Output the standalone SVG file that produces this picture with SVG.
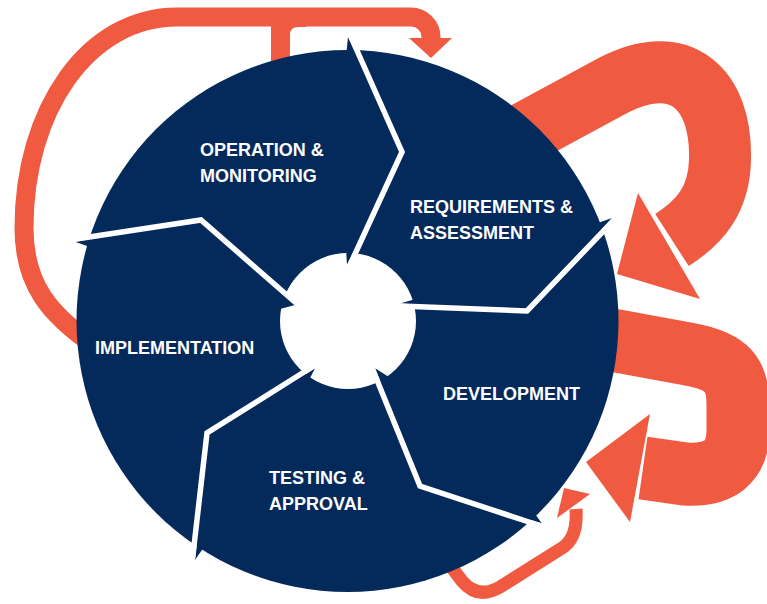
<svg xmlns="http://www.w3.org/2000/svg" width="767" height="604" viewBox="0 0 767 604">
  <style>
    .band { fill: none; stroke: #EF5A40; stroke-linecap: butt; stroke-linejoin: round; }
    .head { fill: #EF5A40; }
    .navy { fill: #032A5A; }
    .gap { fill: none; stroke: #FFFFFF; stroke-width: 5.5; stroke-linejoin: miter; stroke-linecap: butt; }
    .label { font-family: "Liberation Sans", Arial, sans-serif; font-weight: bold; font-size: 18px; fill: #FFFFFF; }
  </style>

  <!-- Orange feedback arrows, drawn behind the wheel -->
  <g id="connectors">
    <!-- thin loop over the top-left -->
    <path class="band" stroke-width="19" d="M 95 346 C 50 315 24 285 24 228 C 24 110 88 17 177 17 L 411 17 A 20 20 0 0 1 431 37 L 431 40"/>
    <path class="head" d="M 271 20 V 78 H 290 V 35 Q 290 27 298 27 H 306 V 17 H 271 Z"/>
    <polygon class="head" points="409,38 452,38 431,58"/>

    <!-- large upper-right return arrow -->
    <path class="band" stroke-width="62" d="M 490 152 L 612 86 C 680 50 722 88 720 160 C 719 200 700 222 672 240"/>
    <polygon class="head" points="638,193 700,299 617,274"/>

    <!-- large lower-right return arrow -->
    <path class="band" stroke-width="63" d="M 590 336 L 688 354 C 728 361 738 375 738 405 L 738 430 C 738 462 720 476 685 474 L 643 468"/>
    <polygon class="head" points="650,414 630,522 586,462"/>

    <!-- small bottom arrow -->
    <path class="band" stroke-width="13" d="M 440 552 L 462 581 Q 478 600 500 587 L 562 548 Q 578 538 576 509"/>
    <polygon class="head" points="557,518 590,494 564,488"/>
  </g>

  <!-- The wheel: navy disc, white hub and the chevron gaps between stages -->
  <g id="wheel">
    <circle class="navy" cx="347.5" cy="321" r="271"/>
    <!-- barbs reaching past the rim -->
    <polygon class="navy" points="348,37 346,57 357.5,57"/>
    <polygon class="navy" points="612,218 595,224 598.5,233"/>
    <polygon class="navy" points="541.7,523.3 533,511 522.7,517.2"/>
    <polygon class="navy" points="195,560 204,547 197.3,540"/>
    <polygon class="navy" points="75,241.7 90,247 92.7,238.6"/>

    <circle cx="348" cy="321" r="68" fill="#FFFFFF"/>
    <!-- barbs reaching into the hub -->
    <polygon class="navy" points="347,265 346,248 355.3,248"/>
    <polygon class="navy" points="400,303.5 414,299.5 418,304.5"/>
    <polygon class="navy" points="375,368.3 389,377 382.3,385.8"/>
    <polygon class="navy" points="315,368.3 309,380 299.8,377.9"/>
    <polygon class="navy" points="295,305 280,309 281.7,292.9"/>

    <!-- white chevron gaps -->
    <polyline class="gap" points="351,37 402,152 349.5,266"/>
    <polyline class="gap" points="614,220 527,311 400,306"/>
    <polyline class="gap" points="372.5,369 420,486 541,526"/>
    <polyline class="gap" points="313.6,366 207,433 192.6,558"/>
    <polyline class="gap" points="74.5,239.3 201,220 296,303"/>
  </g>

  <g id="operation-monitoring">
    <text class="label" x="200" y="156">OPERATION &amp;</text>
    <text class="label" x="200" y="182">MONITORING</text>
  </g>
  <g id="requirements-assessment">
    <text class="label" x="410" y="213">REQUIREMENTS &amp;</text>
    <text class="label" x="410" y="239">ASSESSMENT</text>
  </g>
  <g id="development">
    <text class="label" x="443" y="400">DEVELOPMENT</text>
  </g>
  <g id="testing-approval">
    <text class="label" x="269" y="484">TESTING &amp;</text>
    <text class="label" x="269" y="510">APPROVAL</text>
  </g>
  <g id="implementation">
    <text class="label" x="95" y="354">IMPLEMENTATION</text>
  </g>
</svg>
